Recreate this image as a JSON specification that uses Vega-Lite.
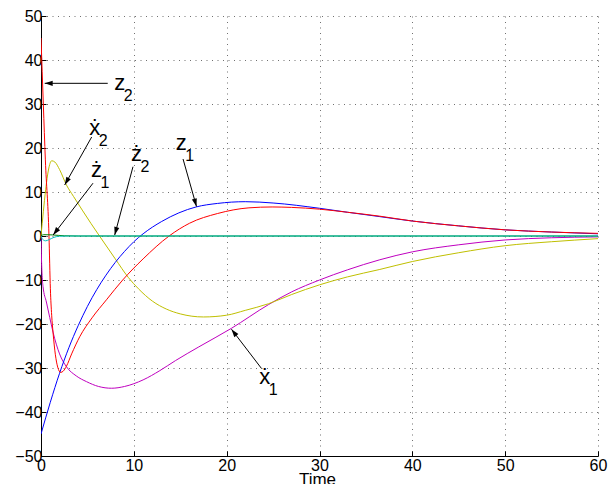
{
  "$schema": "https://vega.github.io/schema/vega-lite/v6.json",
  "width": 557,
  "height": 440,
  "autosize": {"type": "none"},
  "padding": {"left": 41, "top": 16, "right": 18, "bottom": 28},
  "config": {"view": {"stroke": null}, "font": "Liberation Sans"},
  "datasets": {
    "curves": [
      {"series": "x1dot", "t": 0, "v": 0}, {"series": "x1dot", "t": 0.05, "v": -5}, {"series": "x1dot", "t": 0.12, "v": -9}, {"series": "x1dot", "t": 0.22, "v": -11.5}, {"series": "x1dot", "t": 0.58, "v": -15}, {"series": "x1dot", "t": 0.94, "v": -18.5}, {"series": "x1dot", "t": 1.29, "v": -21.8}, {"series": "x1dot", "t": 2, "v": -26.8}, {"series": "x1dot", "t": 2.74, "v": -29.7}, {"series": "x1dot", "t": 3.8, "v": -31.8}, {"series": "x1dot", "t": 4.9, "v": -33.1}, {"series": "x1dot", "t": 6.2, "v": -34.2}, {"series": "x1dot", "t": 7.6, "v": -34.6}, {"series": "x1dot", "t": 9, "v": -34.2}, {"series": "x1dot", "t": 11, "v": -32.7}, {"series": "x1dot", "t": 12.8, "v": -30.6}, {"series": "x1dot", "t": 14.5, "v": -28.3}, {"series": "x1dot", "t": 17, "v": -25.2}, {"series": "x1dot", "t": 20.5, "v": -21}, {"series": "x1dot", "t": 24.5, "v": -15.6}, {"series": "x1dot", "t": 27, "v": -12.7}, {"series": "x1dot", "t": 30, "v": -10}, {"series": "x1dot", "t": 33, "v": -7.7}, {"series": "x1dot", "t": 36.5, "v": -5.4}, {"series": "x1dot", "t": 40, "v": -3.6}, {"series": "x1dot", "t": 45, "v": -2}, {"series": "x1dot", "t": 50, "v": -0.9}, {"series": "x1dot", "t": 55, "v": -0.4}, {"series": "x1dot", "t": 60, "v": -0.2},
      {"series": "x2dot", "t": 0, "v": 0}, {"series": "x2dot", "t": 0.25, "v": 5.5}, {"series": "x2dot", "t": 0.5, "v": 10.5}, {"series": "x2dot", "t": 0.8, "v": 15}, {"series": "x2dot", "t": 1.15, "v": 17.1}, {"series": "x2dot", "t": 1.5, "v": 16.8}, {"series": "x2dot", "t": 2, "v": 15.1}, {"series": "x2dot", "t": 2.74, "v": 11.6}, {"series": "x2dot", "t": 3.5, "v": 9}, {"series": "x2dot", "t": 4.5, "v": 5.7}, {"series": "x2dot", "t": 5.4, "v": 2.8}, {"series": "x2dot", "t": 6.3, "v": 0}, {"series": "x2dot", "t": 8, "v": -5.2}, {"series": "x2dot", "t": 9.4, "v": -9.4}, {"series": "x2dot", "t": 10.5, "v": -12}, {"series": "x2dot", "t": 12, "v": -14.8}, {"series": "x2dot", "t": 13.5, "v": -16.6}, {"series": "x2dot", "t": 15, "v": -17.7}, {"series": "x2dot", "t": 17.5, "v": -18.4}, {"series": "x2dot", "t": 20, "v": -18}, {"series": "x2dot", "t": 22, "v": -16.9}, {"series": "x2dot", "t": 24.5, "v": -15.4}, {"series": "x2dot", "t": 27, "v": -13.3}, {"series": "x2dot", "t": 30, "v": -11.1}, {"series": "x2dot", "t": 33, "v": -9.3}, {"series": "x2dot", "t": 36.5, "v": -7.6}, {"series": "x2dot", "t": 40, "v": -5.8}, {"series": "x2dot", "t": 45, "v": -3.8}, {"series": "x2dot", "t": 50, "v": -2.2}, {"series": "x2dot", "t": 55, "v": -1.3}, {"series": "x2dot", "t": 60, "v": -0.6},
      {"series": "z1", "t": 0, "v": -45}, {"series": "z1", "t": 1, "v": -37.8}, {"series": "z1", "t": 2, "v": -31.2}, {"series": "z1", "t": 3, "v": -25.4}, {"series": "z1", "t": 4, "v": -20.4}, {"series": "z1", "t": 5, "v": -16}, {"series": "z1", "t": 6, "v": -12.2}, {"series": "z1", "t": 7, "v": -8.9}, {"series": "z1", "t": 8, "v": -6}, {"series": "z1", "t": 9, "v": -3.5}, {"series": "z1", "t": 10, "v": -1.3}, {"series": "z1", "t": 11, "v": 0.5}, {"series": "z1", "t": 13, "v": 3.3}, {"series": "z1", "t": 16.7, "v": 6.6}, {"series": "z1", "t": 19, "v": 7.4}, {"series": "z1", "t": 22, "v": 7.8}, {"series": "z1", "t": 25, "v": 7.5}, {"series": "z1", "t": 30, "v": 6.3}, {"series": "z1", "t": 33, "v": 5.4}, {"series": "z1", "t": 36.5, "v": 4.4}, {"series": "z1", "t": 40, "v": 3.4}, {"series": "z1", "t": 45, "v": 2.3}, {"series": "z1", "t": 50, "v": 1.4}, {"series": "z1", "t": 55, "v": 0.9}, {"series": "z1", "t": 60, "v": 0.5},
      {"series": "z2", "t": 0, "v": 45}, {"series": "z2", "t": 0.25, "v": 30}, {"series": "z2", "t": 0.47, "v": 17.3}, {"series": "z2", "t": 0.86, "v": 0}, {"series": "z2", "t": 1.01, "v": -12}, {"series": "z2", "t": 1.15, "v": -18}, {"series": "z2", "t": 1.3, "v": -22}, {"series": "z2", "t": 1.55, "v": -27}, {"series": "z2", "t": 1.8, "v": -29.8}, {"series": "z2", "t": 2.12, "v": -31}, {"series": "z2", "t": 2.4, "v": -30.7}, {"series": "z2", "t": 2.74, "v": -29.6}, {"series": "z2", "t": 3.3, "v": -26.8}, {"series": "z2", "t": 4.17, "v": -22.9}, {"series": "z2", "t": 5.5, "v": -18.6}, {"series": "z2", "t": 7.05, "v": -14.5}, {"series": "z2", "t": 8.8, "v": -10}, {"series": "z2", "t": 11, "v": -5.2}, {"series": "z2", "t": 13.8, "v": 0}, {"series": "z2", "t": 16, "v": 2.9}, {"series": "z2", "t": 19, "v": 5.1}, {"series": "z2", "t": 22.4, "v": 6.4}, {"series": "z2", "t": 24.9, "v": 6.6}, {"series": "z2", "t": 27, "v": 6.5}, {"series": "z2", "t": 30, "v": 6.1}, {"series": "z2", "t": 33, "v": 5.4}, {"series": "z2", "t": 36.5, "v": 4.5}, {"series": "z2", "t": 40, "v": 3.4}, {"series": "z2", "t": 45, "v": 2.3}, {"series": "z2", "t": 50, "v": 1.4}, {"series": "z2", "t": 55, "v": 0.9}, {"series": "z2", "t": 60, "v": 0.6},
      {"series": "z2dot", "t": 0, "v": 0}, {"series": "z2dot", "t": 0.3, "v": 0.3}, {"series": "z2dot", "t": 1.2, "v": 0.25}, {"series": "z2dot", "t": 2.5, "v": 0.05}, {"series": "z2dot", "t": 4, "v": 0}, {"series": "z2dot", "t": 60, "v": 0},
      {"series": "z1dot", "t": 0, "v": 0}, {"series": "z1dot", "t": 0.15, "v": -0.7}, {"series": "z1dot", "t": 0.5, "v": -1.1}, {"series": "z1dot", "t": 0.9, "v": -0.8}, {"series": "z1dot", "t": 1.4, "v": -0.3}, {"series": "z1dot", "t": 2, "v": -0.05}, {"series": "z1dot", "t": 3, "v": 0}, {"series": "z1dot", "t": 60, "v": 0}
    ],
    "notes": [
      {"sym": "z", "sub": "2", "lt": 8.48, "lv": 33.2, "tailT": 7.19, "tailV": 34.7, "tipT": 0.4, "tipV": 34.7},
      {"sym": "ẋ", "sub": "2", "lt": 5.79, "lv": 22.95, "tailT": 5.46, "tailV": 22.5, "tipT": 2.55, "tipV": 11.6},
      {"sym": "ż", "sub": "1", "lt": 5.97, "lv": 13.3, "tailT": 5.6, "tailV": 12.0, "tipT": 1.31, "tipV": 0.23},
      {"sym": "ż", "sub": "2", "lt": 10.28, "lv": 17.1, "tailT": 9.91, "tailV": 15.75, "tipT": 7.94, "tipV": 0.23},
      {"sym": "z", "sub": "1", "lt": 15.1, "lv": 19.5, "tailT": 15.3, "tailV": 17.5, "tipT": 16.75, "tipV": 6.7},
      {"sym": "ẋ", "sub": "1", "lt": 24.1, "lv": -33.6, "tailT": 23.75, "tailV": -30.1, "tipT": 20.52, "tipV": -21.2}
    ]
  },
  "layer": [
    {
      "data": {"name": "curves"},
      "mark": {"type": "line", "interpolate": "monotone", "strokeWidth": 1, "clip": true},
      "encoding": {
        "x": {"field": "t", "type": "quantitative",
          "scale": {"domain": [0, 60], "nice": false},
          "axis": {"values": [0, 10, 20, 30, 40, 50, 60], "title": "Time", "titleFontSize": 17, "titleFontWeight": "normal", "titleColor": "black", "titleBaseline": "alphabetic", "titleY": 28, "titleX": 276,
            "labelFontSize": 16, "labelColor": "black", "labelPadding": 6, "labelFlush": false, "labelOverlap": false,
            "tickSize": -5, "tickColor": "black", "domainColor": "black",
            "grid": true, "gridColor": "#707070", "gridDash": [1, 4.5], "gridOpacity": 1}},
        "y": {"field": "v", "type": "quantitative",
          "scale": {"domain": [-50, 50], "nice": false},
          "axis": {"values": [-50, -40, -30, -20, -10, 0, 10, 20, 30, 40, 50], "title": null,
            "labelFontSize": 16, "labelColor": "black", "labelPadding": 4, "labelFlush": false, "labelOverlap": false,
            "tickSize": -5, "tickColor": "black", "domainColor": "black",
            "grid": true, "gridColor": "#707070", "gridDash": [1, 4.5], "gridOpacity": 1}},
        "color": {"field": "series", "type": "nominal",
          "scale": {"domain": ["x1dot", "x2dot", "z1", "z2", "z2dot", "z1dot"], "range": ["#bf00bf", "#bfbf00", "#0000ff", "#ff0000", "#008000", "#00bfbf"]},
          "legend": null}
      }
    },
    {
      "data": {"name": "notes"},
      "mark": {"type": "rule", "color": "black", "strokeWidth": 1},
      "encoding": {
        "x": {"field": "tailT", "type": "quantitative"},
        "y": {"field": "tailV", "type": "quantitative"},
        "x2": {"field": "tipT"},
        "y2": {"field": "tipV"}
      }
    },
    {
      "data": {"name": "notes"},
      "transform": [{"calculate": "atan2((datum.tipT - datum.tailT) * 9.28, (datum.tipV - datum.tailV) * 4.4) * 180 / PI", "as": "ang"}],
      "mark": {"type": "point", "shape": "M0,0L-0.32,1L0.32,1Z", "filled": true, "color": "black", "opacity": 1, "size": 256},
      "encoding": {
        "x": {"field": "tipT", "type": "quantitative"},
        "y": {"field": "tipV", "type": "quantitative"},
        "angle": {"field": "ang", "type": "quantitative", "scale": null}
      }
    },
    {
      "data": {"name": "notes"},
      "mark": {"type": "text", "fontSize": 22, "align": "center", "baseline": "alphabetic", "color": "black"},
      "encoding": {
        "x": {"field": "lt", "type": "quantitative"},
        "y": {"field": "lv", "type": "quantitative"},
        "text": {"field": "sym"}
      }
    },
    {
      "data": {"name": "notes"},
      "mark": {"type": "text", "fontSize": 16, "align": "center", "baseline": "alphabetic", "color": "black", "dx": 8.5, "dy": 11},
      "encoding": {
        "x": {"field": "lt", "type": "quantitative"},
        "y": {"field": "lv", "type": "quantitative"},
        "text": {"field": "sub"}
      }
    }
  ]
}
